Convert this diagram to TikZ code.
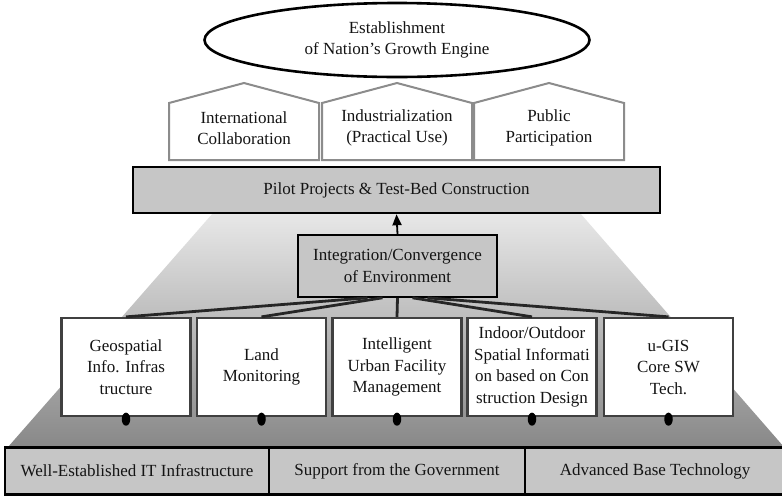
\documentclass[tikz,border=0pt]{standalone}
\usepackage{fontspec}
\setmainfont{Liberation Serif}
\usetikzlibrary{shapes.geometric,calc,arrows.meta}
\definecolor{barfill}{HTML}{C6C6C6}
\definecolor{roofgray}{HTML}{8C8C8C}
\definecolor{boxborder}{HTML}{404040}
\definecolor{linkgray}{HTML}{262626}
\definecolor{inktext}{HTML}{141414}
\definecolor{shadetop}{HTML}{E8E8E8}
\definecolor{shadebottom}{HTML}{888888}
\begin{document}
\begin{tikzpicture}[x=1pt,y=-1pt,
  txt/.style={font=\fontsize{17}{21.5}\selectfont, align=center, text=inktext},
  goal/.style={ellipse, draw=black, line width=2.6pt, fill=white,
    minimum width=385pt, minimum height=74pt, inner sep=0pt, txt},
  roof/.style={draw=roofgray, line width=2pt, fill=white, line join=miter},
  pillar/.style={inner sep=0pt, txt},
  bar/.style={draw=black, fill=barfill, inner sep=0pt, txt},
  area/.style={draw=boxborder, line width=2.3pt, fill=white,
    minimum width=129pt, minimum height=98pt, inner sep=0pt, txt},
  link/.style={draw=linkgray, line width=2.8pt},
  knot/.style={ellipse, fill=black, minimum width=8.5pt, minimum height=13pt, inner sep=0pt},
  base/.style={fill=barfill, draw=black, line width=1.4pt,
    minimum height=46pt, inner sep=0pt, txt}
]
% canvas
\fill[white] (0,0) rectangle (782,496);
\useasboundingbox (0,0) rectangle (782,496);

% shaded pyramid behind the lower tiers
\shade[top color=shadetop, bottom color=shadebottom]
  (213,213) -- (580,213) -- (784,447) -- (8,447) -- cycle;

% goal
\node[goal] (goal) at (397,40) {Establishment\\of Nation’s Growth Engine};

% three pillars with roofs
\coordinate (p1c) at (244,128);
\coordinate (p2c) at (397,128);
\coordinate (p3c) at (549,128);
\foreach \c in {p1c,p2c,p3c}{
  \draw[roof] ($(\c)+(-75,32)$) -- ($(\c)+(-75,-25)$) -- ($(\c)+(0,-45)$)
    -- ($(\c)+(75,-25)$) -- ($(\c)+(75,32)$) -- cycle;
}
\node[pillar] (p1) at (p1c) {International\\Collaboration};
\node[pillar] (p2) at (p2c) {Industrialization\\(Practical Use)};
\node[pillar] (p3) at (p3c) {Public\\Participation};

% pilot projects bar
\node[bar, line width=2.6pt, minimum width=527pt, minimum height=46pt]
  (pilot) at (396.5,190) {Pilot Projects \& Test-Bed Construction};

% integration box
\node[bar, line width=1.6pt, minimum width=199pt, minimum height=62pt]
  (int) at (397.5,266) {Integration/Convergence\\of Environment};

\draw[-{Triangle[length=11pt,width=9pt]}, line width=1.8pt, black]
  (int.north) -- (pilot.south);

% application areas
\node[area] (a1) at (126,367)   {Geospatial\\Info. Infras\\tructure};
\node[area] (a2) at (261.5,367) {Land\\Monitoring};
\node[area] (a3) at (397,367)   {Intelligent\\Urban Facility\\Management};
\node[area] (a4) at (532,367)   {Indoor/Outdoor\\Spatial Informati\\on based on Con\\struction Design};
\node[area] (a5) at (668.5,367) {u-GIS\\Core SW\\Tech.};

% fan of links from the integration box
\draw[link] ($(int.south)+(-30,0)$) -- (a1.north);
\draw[link] ($(int.south)+(-15,0)$) -- (a2.north);
\draw[link] (int.south) -- (a3.north);
\draw[link] ($(int.south)+(15,0)$) -- (a4.north);
\draw[link] ($(int.south)+(30,0)$) -- (a5.north);

% anchor dots
\foreach \a in {a1,a2,a3,a4,a5}{
  \node[knot] (\a dot) at ($(\a.south)+(0,2)$) {};
}

% foundation
\node[base, minimum width=264pt] (f1) at (137,471) {Well-Established IT Infrastructure};
\node[base, minimum width=256pt] (f2) at (397,471) {Support from the Government};
\node[base, minimum width=260pt] (f3) at (655,471) {Advanced Base Technology};
\draw[black, line width=3pt] (f1.north west) -- (f3.north east);
\draw[black, line width=2pt] (f1.south west) -- (f3.south east);
\end{tikzpicture}
\end{document}
